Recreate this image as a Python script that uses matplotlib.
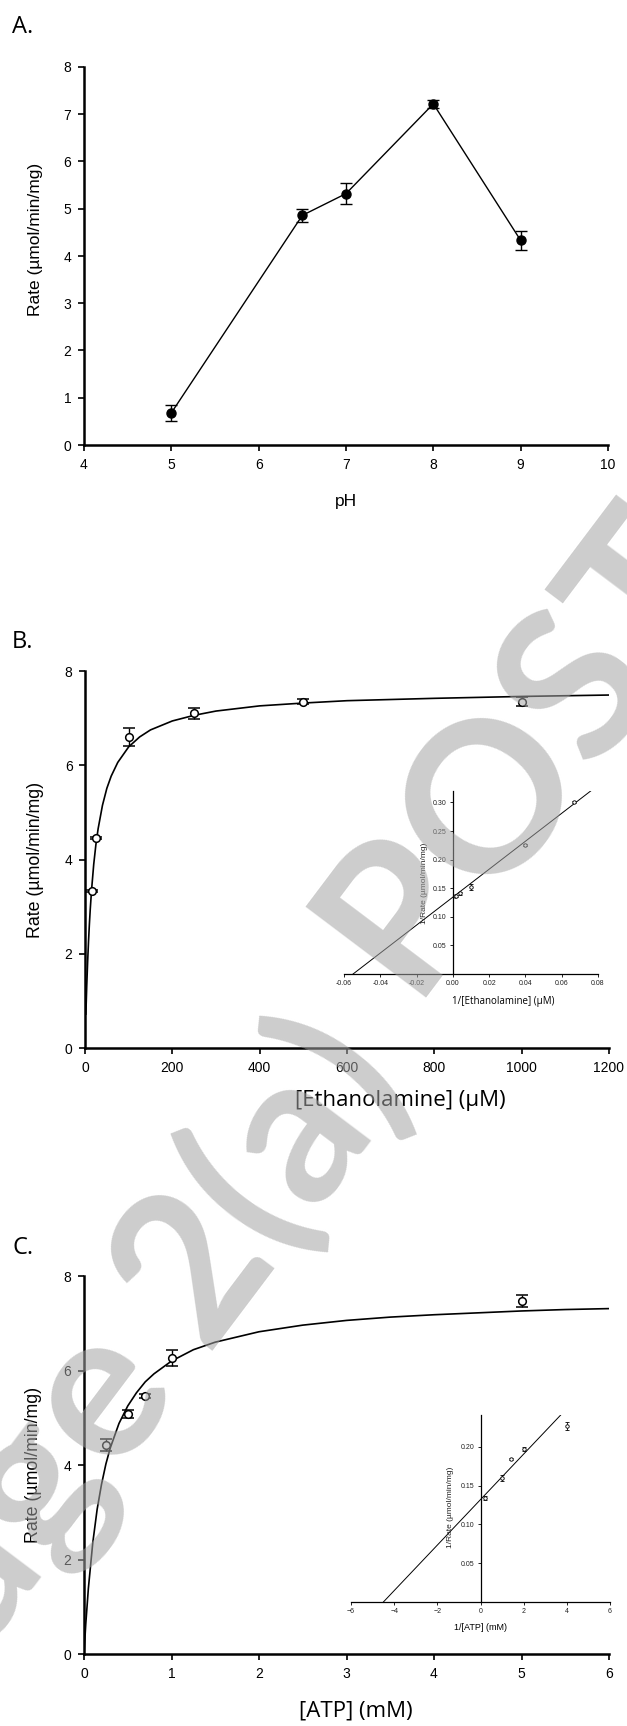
import matplotlib
matplotlib.use("Agg")
import matplotlib.pyplot as plt

# --- A: pH profile ---
ph = [5, 6.5, 7, 8, 9]
rate_ph = [0.68, 4.86, 5.32, 7.22, 4.33]
err_ph = [0.17, 0.13, 0.22, 0.09, 0.20]

# --- B: ethanolamine ---
etn = [15, 25, 100, 250, 500, 1000]
rate_etn = [3.33, 4.45, 6.59, 7.10, 7.35, 7.35]
err_etn = [0.02, 0.02, 0.19, 0.12, 0.05, 0.09]
# fitted curve
etn_fit_x = [2, 4, 6, 8, 10, 12, 15, 20, 25, 30, 40, 50, 60, 75, 100, 125, 150,
             200, 250, 300, 400, 500, 600, 800, 1000, 1200]
etn_fit_y = [0.72, 1.32, 1.82, 2.25, 2.62, 2.94, 3.35, 3.90, 4.32, 4.65, 5.15,
             5.51, 5.77, 6.06, 6.39, 6.60, 6.75, 6.94, 7.06, 7.15, 7.26, 7.32,
             7.37, 7.42, 7.46, 7.49]
# double reciprocal inset
etn_inv = [0.001, 0.002, 0.004, 0.01, 0.04, 0.0667]
rate_etn_inv = [0.136, 0.137, 0.141, 0.152, 0.225, 0.301]
err_etn_inv = [0.001, 0.002, 0.002, 0.005, 0.002, 0.002]
etn_line_x = [-0.055, 0.078]
etn_line_y = [0.0, 0.325]

# --- C: ATP ---
atp = [0.25, 0.5, 0.7, 1, 5]
rate_atp = [4.42, 5.08, 5.46, 6.26, 7.47]
err_atp = [0.12, 0.09, 0.05, 0.17, 0.12]
atp_fit_x = [0, 0.02, 0.05, 0.1, 0.15, 0.2, 0.25, 0.3, 0.4, 0.5, 0.6, 0.7, 0.8,
             1.0, 1.25, 1.5, 2.0, 2.5, 3.0, 3.5, 4.0, 4.5, 5.0, 5.5, 6.0]
atp_fit_y = [0, 0.63, 1.39, 2.35, 3.06, 3.59, 4.02, 4.36, 4.88, 5.25, 5.53,
             5.76, 5.93, 6.20, 6.44, 6.60, 6.82, 6.96, 7.06, 7.13, 7.18, 7.22,
             7.26, 7.29, 7.31]
atp_inv = [0.2, 1, 1.43, 2, 4]
rate_atp_inv = [0.134, 0.160, 0.184, 0.197, 0.227]
err_atp_inv = [0.002, 0.004, 0.001, 0.003, 0.005]
atp_line_x = [-4.5, 3.75]
atp_line_y = [0.0, 0.242]

W, H = 627, 1726
fig = plt.figure(figsize=(W / 100, H / 100), dpi=100)
plt.rcParams['font.family'] = ['Liberation Sans', 'DejaVu Sans']


def box(l, t, r, b):
    return [l / W, 1 - b / H, (r - l) / W, (b - t) / H]


def style_main(ax):
    for s in ['top', 'right']:
        ax.spines[s].set_visible(False)
    for s in ['left', 'bottom']:
        ax.spines[s].set_linewidth(1.8)
    ax.tick_params(direction='out', length=4, width=1.2, labelsize=10, pad=5)


def style_inset(ax):
    for s in ['top', 'right']:
        ax.spines[s].set_visible(False)
    ax.spines['left'].set_position(('data', 0))
    ax.spines['left'].set_linewidth(0.9)
    ax.spines['bottom'].set_linewidth(0.9)
    ax.patch.set_alpha(0)
    ax.tick_params(direction='out', length=2.5, width=0.7, labelsize=5,
                   pad=2, colors='#222222')


ylab = 'Rate (\u00b5mol/min/mg)'
open_pts = dict(fmt='o', color='k', mfc='white', mec='k', ms=5.5, mew=1.1,
                capsize=4, elinewidth=1, capthick=1)

# Panel A
axA = fig.add_axes(box(84, 67, 608, 445))
axA.errorbar(ph, rate_ph, yerr=err_ph, fmt='o-', color='k', ms=6.5, lw=1,
             capsize=4, elinewidth=1, capthick=1)
axA.set_xlim(4, 10)
axA.set_ylim(0, 8)
axA.set_xticks(range(4, 11))
axA.set_yticks(range(0, 9))
style_main(axA)
axA.set_xlabel('pH', fontsize=12.5)
axA.xaxis.set_label_coords(0.5, -0.13)
axA.set_ylabel(ylab, fontsize=12.5)
axA.yaxis.set_label_coords(-0.078, 0.545)

# Panel B
axB = fig.add_axes(box(85, 671, 609, 1048))
axB.plot(etn_fit_x, etn_fit_y, color='k', lw=1.2)
axB.errorbar(etn, rate_etn, yerr=err_etn, **open_pts)
axB.set_xlim(0, 1200)
axB.set_ylim(0, 8)
axB.set_xticks(range(0, 1201, 200))
axB.set_yticks(range(0, 9, 2))
style_main(axB)
axB.set_ylabel(ylab, fontsize=12.75)
axB.yaxis.set_label_coords(-0.078, 0.5)
axB.text(0.601, -0.138, '[Ethanolamine] (\u03bcM)', transform=axB.transAxes,
         ha='center', va='center', fontsize=16, family='Open Sans')

axBi = fig.add_axes(box(344, 791, 598, 974))
axBi.plot(etn_line_x, etn_line_y, color='k', lw=0.7)
axBi.errorbar(etn_inv, rate_etn_inv, yerr=err_etn_inv, fmt='o', color='k',
              mfc='white', mec='k', ms=2.5, mew=0.6, capsize=1.5,
              elinewidth=0.6, capthick=0.6)
axBi.set_xlim(-0.06, 0.08)
axBi.set_ylim(0, 0.32)
axBi.set_xticks([-0.06, -0.04, -0.02, 0.0, 0.02, 0.04, 0.06, 0.08])
axBi.set_xticklabels(['-0.06', '-0.04', '-0.02', '0.00', '0.02', '0.04',
                      '0.06', '0.08'])
axBi.set_yticks([0.05, 0.10, 0.15, 0.20, 0.25, 0.30])
axBi.set_yticklabels(['0.05', '0.10', '0.15', '0.20', '0.25', '0.30'])
style_inset(axBi)
axBi.text(0.626, -0.153, '1/[Ethanolamine] (\u03bcM)', transform=axBi.transAxes,
          ha='center', va='center', fontsize=7, family='Open Sans')
axBi.text(0.315, 0.497, '1/Rate (\u00b5mol/min/mg)', transform=axBi.transAxes,
          ha='center', va='center', fontsize=6, rotation=90, color='#222222')

# Panel C
axC = fig.add_axes(box(84, 1276, 609, 1654))
axC.plot(atp_fit_x, atp_fit_y, color='k', lw=1.2)
axC.errorbar(atp, rate_atp, yerr=err_atp, **open_pts)
axC.set_xlim(0, 6)
axC.set_ylim(0, 8)
axC.set_xticks(range(0, 7))
axC.set_yticks(range(0, 9, 2))
style_main(axC)
axC.set_ylabel(ylab, fontsize=12.75)
axC.yaxis.set_label_coords(-0.08, 0.5)
axC.text(0.517, -0.151, '[ATP] (mM)', transform=axC.transAxes,
         ha='center', va='center', fontsize=16, family='Open Sans')

axCi = fig.add_axes(box(351, 1415, 610, 1602))
axCi.plot(atp_line_x, atp_line_y, color='k', lw=0.7)
axCi.errorbar(atp_inv, rate_atp_inv, yerr=err_atp_inv, fmt='o', color='k',
              mfc='white', mec='k', ms=2.5, mew=0.6, capsize=1.5,
              elinewidth=0.6, capthick=0.6)
axCi.set_xlim(-6, 6)
axCi.set_ylim(0, 0.241)
axCi.set_xticks(range(-6, 7, 2))
axCi.set_yticks([0.05, 0.10, 0.15, 0.20])
axCi.set_yticklabels(['0.05', '0.10', '0.15', '0.20'])
style_inset(axCi)
axCi.text(0.499, -0.134, '1/[ATP] (mM)', transform=axCi.transAxes,
          ha='center', va='center', fontsize=6.5)
axCi.text(0.383, 0.508, '1/Rate (\u00b5mol/min/mg)', transform=axCi.transAxes,
          ha='center', va='center', fontsize=6, rotation=90, color='#222222')

# panel letters
for lab, yc in [('A.', 27), ('B.', 642), ('C.', 1248)]:
    fig.text(12 / W, 1 - yc / H, lab, ha='left', va='center', fontsize=17,
             family='Open Sans')

# watermark, overlaid semi-transparent
wm = dict(rotation=53, rotation_mode='anchor', va='baseline', fontsize=150,
          family='Lato', fontweight='bold', color='#a4a4a4', alpha=0.55,
          zorder=20)
fig.text(571 / W, 1 - 783 / H, 'POST', ha='center', **wm)
fig.text(307 / W, 1 - 1215 / H, '2(a)', ha='center', **wm)
fig.text(175 / W, 1 - 1377 / H, 'Page', ha='right', **wm)

fig.savefig('out.png', dpi=100)
